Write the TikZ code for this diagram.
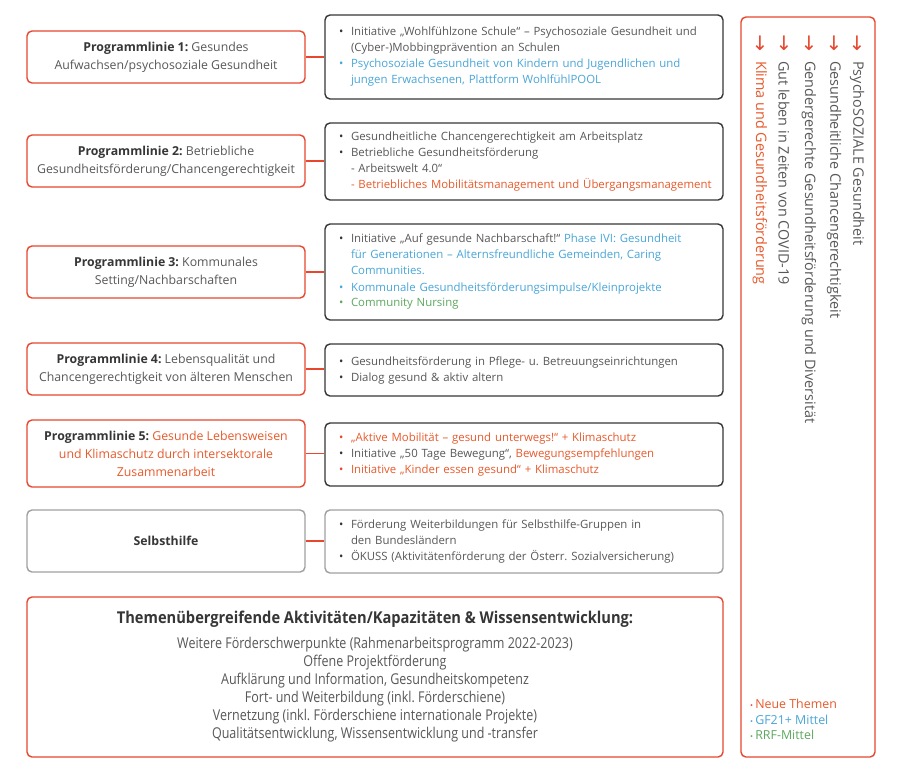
\documentclass[tikz,border=0pt]{standalone}
\usepackage{fontspec}
\setmainfont{Open Sans}
\newfontfamily\condfont{Open Sans}[FakeStretch=0.84]
\newfontfamily\condbold{Open Sans}[FakeStretch=0.9]
\newfontfamily\symfont{DejaVu Sans}
\usetikzlibrary{positioning}
\frenchspacing
\definecolor{pgred}{HTML}{E8472E}
\definecolor{pgorange}{HTML}{E85A2C}
\definecolor{pgtxt}{HTML}{585858}
\definecolor{pgdark}{HTML}{363636}
\definecolor{pggray}{HTML}{A0A0A0}
\definecolor{pgblue}{HTML}{4AA6D8}
\definecolor{pggreen}{HTML}{5DA85F}
\newcommand{\bul}[1]{\makebox[12pt][l]{\textcolor{#1}{\textbullet}}}
\newcommand{\ind}{\hspace*{12pt}}
\newcommand{\plhead}[1]{\textbf{\textcolor{pgdark}{#1}}}
\tikzset{
  linebox/.style={draw=pgred, line width=1.4pt, rounded corners=5pt, minimum width=278pt, align=center, text=pgtxt, font=\fontsize{12.3}{18}\selectfont},
  itembox/.style={draw=pgdark, line width=1.4pt, rounded corners=5pt, text width=370pt, inner xsep=14pt, align=left, text=pgtxt, font=\fontsize{11.4}{16}\selectfont},
  link/.style={draw=pgred, line width=1.4pt},
  sidetext/.style={rotate=-90, anchor=west, inner sep=0pt, text=pgtxt, font=\fontsize{14.4}{16}\selectfont},
  legend/.style={anchor=west, inner sep=0pt, font=\fontsize{12.4}{12}\selectfont}
}
\begin{document}
\begin{tikzpicture}[x=1pt, y=-1pt]
  %%%%% START %%%%%
  \useasboundingbox[fill=white] (0,0) rectangle (912,772);

  % Programmlinien
  \node[linebox, minimum height=52pt] (pl1) at (166,57) {\plhead{Programmlinie 1:} Gesundes\\Aufwachsen/psychosoziale Gesundheit};
  \node[linebox, minimum height=52pt] (pl2) at (166,161) {\plhead{Programmlinie 2:} Betriebliche\\Gesundheitsförderung/Chancengerechtigkeit};
  \node[linebox, minimum height=52pt] (pl3) at (166,272) {\plhead{Programmlinie 3:} Kommunales\\Setting/Nachbarschaften};
  \node[linebox, minimum height=52pt] (pl4) at (166,369) {\plhead{Programmlinie 4:} Lebensqualität und\\Chancengerechtigkeit von älteren Menschen};
  \node[linebox, minimum height=67pt] (pl5) at (166,453.5) {\plhead{Programmlinie 5:} \textcolor{pgorange}{Gesunde Lebensweisen}\\\textcolor{pgorange}{und Klimaschutz durch intersektorale}\\\textcolor{pgorange}{Zusammenarbeit}};
  \node[linebox, draw=pggray, minimum height=62pt] (shilfe) at (166,541) {\plhead{Selbsthilfe}};

  % Inhalte
  \node[itembox, minimum height=84pt] (it1) at (524,57) {\bul{pgdark}Initiative „Wohlfühlzone Schule“ – Psychosoziale Gesundheit und\\
    \ind(Cyber-)Mobbingprävention an Schulen\\
    \bul{pgblue}\textcolor{pgblue}{Psychosoziale Gesundheit von Kindern und Jugendlichen und}\\
    \ind\textcolor{pgblue}{jungen Erwachsenen, Plattform WohlfühlPOOL}};
  \node[itembox, minimum height=77pt] (it2) at (524,161.5) {\bul{pgdark}Gesundheitliche Chancengerechtigkeit am Arbeitsplatz\\
    \bul{pgdark}Betriebliche Gesundheitsförderung\\
    \ind- Arbeitswelt 4.0“\\
    \mbox{\ind\textcolor{pgorange}{- Betriebliches Mobilitätsmanagement und Übergangsmanagement}}};
  \node[itembox, minimum height=96pt] (it3) at (524,272) {\bul{pgdark}Initiative „Auf gesunde Nachbarschaft!“ \textcolor{pgblue}{Phase IVI: Gesundheit}\\
    \ind\textcolor{pgblue}{für Generationen – Alternsfreundliche Gemeinden, Caring}\\
    \ind\textcolor{pgblue}{Communities.}\\
    \bul{pgblue}\textcolor{pgblue}{Kommunale Gesundheitsförderungsimpulse/Kleinprojekte}\\
    \bul{pggreen}\textcolor{pggreen}{Community Nursing}};
  \node[itembox, minimum height=52pt] (it4) at (524,370) {\bul{pgdark}Gesundheitsförderung in Pflege- u. Betreuungseinrichtungen\\
    \bul{pgdark}Dialog gesund \& aktiv altern};
  \node[itembox, minimum height=63pt] (it5) at (524,454.5) {\bul{pgred}\textcolor{pgorange}{„Aktive Mobilität – gesund unterwegs!“ + Klimaschutz}\\
    \bul{pgdark}Initiative „50 Tage Bewegung“, \textcolor{pgorange}{Bewegungsempfehlungen}\\
    \bul{pgred}\textcolor{pgorange}{Initiative „Kinder essen gesund“ + Klimaschutz}};
  \node[itembox, draw=pggray, minimum height=63pt] (it6) at (524,541.5) {\bul{pgdark}Förderung Weiterbildungen für Selbsthilfe-Gruppen in\\
    \ind den Bundesländern\\
    \bul{pgdark}ÖKUSS (Aktivitätenförderung der Österr. Sozialversicherung)};

  % Verbindungen
  \foreach \l/\r in {pl1/it1, pl2/it2, pl3/it3, pl4/it4, pl5/it5, shilfe/it6}
    \draw[link] (\l.east) -- (\l.east -| \r.west);

  % Querschnitt
  \node[draw=pgred, line width=1.4pt, rounded corners=5pt, minimum width=696pt, minimum height=160pt, align=center, text=pgtxt, font=\condfont\fontsize{14.9}{18}\selectfont] (quer) at (375,677)
    {{\condbold\fontsize{16.3}{22}\selectfont\bfseries\textcolor{pgdark}{Themenübergreifende Aktivitäten/Kapazitäten \& Wissensentwicklung:}}\\[7pt]
     Weitere Förderschwerpunkte (Rahmenarbeitsprogramm 2022-2023)\\
     Offene Projektförderung\\
     Aufklärung und Information, Gesundheitskompetenz\\
     Fort- und Weiterbildung (inkl. Förderschiene)\\
     Vernetzung (inkl. Förderschiene internationale Projekte)\\
     Qualitätsentwicklung, Wissensentwicklung und -transfer};

  % Themen rechts
  \node[draw=pgred, line width=1.4pt, rounded corners=5pt, minimum width=134pt, minimum height=740pt] (themen) at (808,387) {};
  \foreach \x in {760,784,809,834,857}
    \node[text=pgred, font=\symfont\fontsize{20}{20}\selectfont, inner sep=0pt] (pf\x) at (\x,43) {↓};
  \node[sidetext, text=pgorange] (t1) at (760,61) {Klima und Gesundheitsförderung};
  \node[sidetext] (t2) at (784,61) {Gut leben in Zeiten von COVID-19};
  \node[sidetext] (t3) at (809,61) {Gendergerechte Gesundheitsförderung und Diversität};
  \node[sidetext] (t4) at (834,61) {Gesundheitliche Chancengerechtigkeit};
  \node[sidetext] (t5) at (857,61) {PsychoSOZIALE Gesundheit};

  % Legende
  \node[legend, text=pgorange] (lg1) at (750,704) {\textcolor{pgred}{\footnotesize\textbullet}\,Neue Themen};
  \node[legend, text=pgblue] (lg2) at (750,719.5) {{\footnotesize\textbullet}\,GF21+ Mittel};
  \node[legend, text=pggreen] (lg3) at (750,735) {{\footnotesize\textbullet}\,RRF-Mittel};
  %%%%% END %%%%%
\end{tikzpicture}
\end{document}
